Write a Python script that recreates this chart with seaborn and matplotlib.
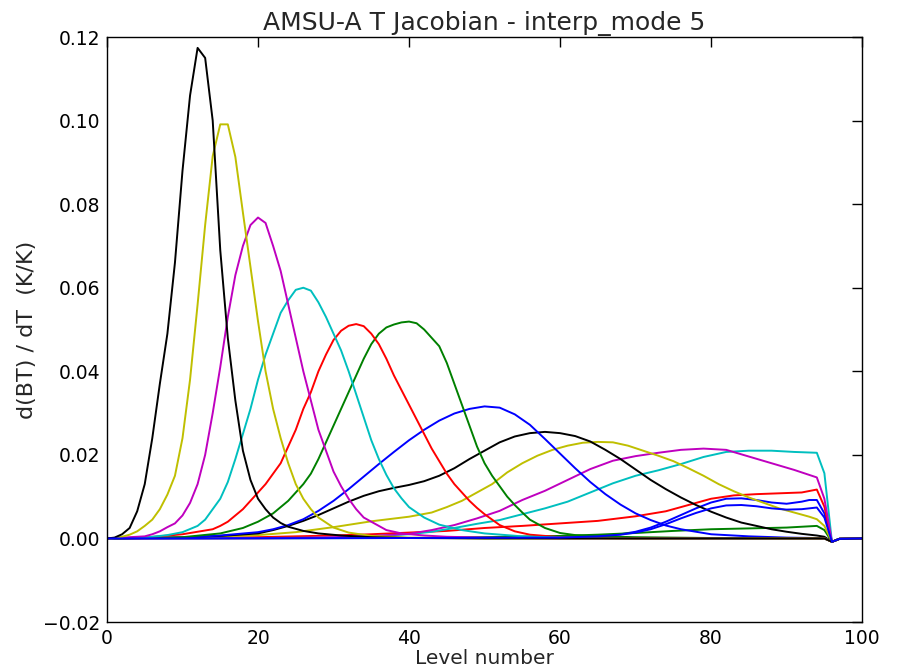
import matplotlib
matplotlib.use("Agg")
import matplotlib.pyplot as plt
import seaborn as sns
import pandas as pd

# ---- data: level numbers and d(BT)/dT per channel ----
ch1_lv = [0, 40, 60, 65, 68, 70, 72, 74, 76, 78, 80, 82, 84, 86, 88, 90, 92, 93, 94, 95, 96, 97, 100]
ch1_v = [0, 0.0001, 0.0002, 0.0005, 0.001, 0.0016, 0.0026, 0.004, 0.0056, 0.0072, 0.0086, 0.0095, 0.0096,
         0.0092, 0.0086, 0.0083, 0.0088, 0.0092, 0.0092, 0.006, -0.0008, -0.0001, 0]

ch2_lv = [0, 40, 50, 60, 65, 70, 75, 80, 85, 90, 94, 95, 96, 97, 100]
ch2_v = [0, 0.0001, 0.0003, 0.0006, 0.0009, 0.0013, 0.0018, 0.0022, 0.0024, 0.0026, 0.003, 0.002, -0.0008, -0.0001, 0]

ch3_lv = [0, 10, 20, 30, 35, 40, 45, 50, 55, 60, 65, 70, 74, 77, 80, 83, 86, 89, 92, 94, 95, 96, 97, 100]
ch3_v = [0, 0.0001, 0.0003, 0.0007, 0.001, 0.0014, 0.0018, 0.0025, 0.003, 0.0036, 0.0042, 0.0053, 0.0065,
         0.008, 0.0095, 0.0103, 0.0106, 0.0108, 0.011, 0.0117, 0.0076, -0.0008, -0.0001, 0]

ch4_lv = [0, 20, 30, 35, 40, 43, 46, 49, 52, 55, 58, 61, 64, 67, 70, 73, 76, 79, 82, 85, 88, 91, 94, 95, 96, 97, 100]
ch4_v = [0, 0.0001, 0.0002, 0.0005, 0.001, 0.0016, 0.0025, 0.0035, 0.0044, 0.0058, 0.0072, 0.0088, 0.011,
         0.0132, 0.015, 0.0163, 0.0178, 0.0195, 0.0207, 0.021, 0.021, 0.0207, 0.0205, 0.0156, -0.0008, -0.0001, 0]

ch5_lv = [0, 20, 25, 30, 35, 40, 43, 46, 49, 52, 55, 58, 61, 64, 67, 70, 73, 76, 79, 82, 85, 88, 91, 94, 95, 96, 97, 100]
ch5_v = [0, 0.00005, 0.0001, 0.0003, 0.0006, 0.0011, 0.002, 0.0032, 0.0048, 0.0066, 0.0092, 0.0114, 0.014,
         0.0166, 0.0186, 0.0197, 0.0205, 0.0212, 0.0215, 0.0212, 0.0196, 0.018, 0.0164, 0.0146, 0.0095,
         -0.0008, -0.0001, 0]

ch6_lv = [0, 10, 20, 25, 30, 35, 40, 43, 45, 47, 49, 51, 53, 55, 57, 59, 61, 63, 65, 67, 69, 71, 73, 75, 77,
          79, 81, 83, 85, 87, 89, 91, 93, 94, 95, 96, 97, 100]
ch6_v = [0, 0.0002, 0.0008, 0.0015, 0.0027, 0.0041, 0.0052, 0.0062, 0.0075, 0.009, 0.011, 0.013, 0.0158,
         0.018, 0.0198, 0.0212, 0.0222, 0.0229, 0.0231, 0.023, 0.0222, 0.021, 0.0198, 0.0185, 0.0168, 0.015,
         0.013, 0.0113, 0.0098, 0.0085, 0.0072, 0.0062, 0.0052, 0.0046, 0.003, -0.0008, -0.0001, 0]

ch7_lv = [0, 10, 15, 20, 22, 24, 26, 28, 30, 32, 34, 36, 38, 40, 42, 44, 46, 48, 50, 52, 54, 56, 58, 60, 62,
          64, 66, 68, 70, 72, 74, 76, 78, 80, 82, 84, 86, 88, 90, 92, 94, 95, 96, 97, 100]
ch7_v = [0, 0.0002, 0.0006, 0.0012, 0.002, 0.003, 0.0042, 0.0056, 0.0072, 0.0088, 0.0102, 0.0113, 0.0121,
         0.0128, 0.0137, 0.015, 0.0168, 0.019, 0.021, 0.023, 0.0244, 0.0252, 0.0255, 0.0252, 0.0245, 0.0232,
         0.0212, 0.019, 0.0165, 0.014, 0.0118, 0.0098, 0.008, 0.0064, 0.005, 0.0038, 0.003, 0.0022, 0.0016,
         0.0011, 0.0007, 0.0004, -0.0008, -0.0001, 0]

ch8_lv = [0, 10, 15, 20, 22, 24, 26, 28, 30, 32, 34, 36, 38, 40, 42, 44, 46, 48, 50, 52, 54, 56, 58, 60, 62,
          64, 66, 68, 70, 72, 74, 76, 80, 85, 90, 94, 95, 96, 97, 100]
ch8_v = [0, 0.0002, 0.0007, 0.0015, 0.0022, 0.0032, 0.0046, 0.0066, 0.009, 0.0118, 0.0148, 0.0178, 0.0207,
         0.0235, 0.026, 0.0282, 0.0299, 0.031, 0.0316, 0.0313, 0.0297, 0.0272, 0.0238, 0.0203, 0.0168,
         0.0135, 0.0106, 0.0081, 0.006, 0.0044, 0.0031, 0.0022, 0.001, 0.0005, 0.0002, 0.0001, 0.0,
         -0.0008, -0.0001, 0]

ch9_lv = [0, 10, 15, 18, 20, 22, 24, 25, 26, 27, 28, 29, 30, 31, 32, 33, 34, 35, 36, 37, 38, 39, 40, 41, 42,
          43, 44, 45, 46, 47, 48, 49, 50, 51, 52, 53, 54, 55, 56, 58, 60, 62, 65, 70, 80, 94, 95, 96, 97, 100]
ch9_v = [0, 0.0003, 0.0012, 0.0025, 0.004, 0.006, 0.009, 0.011, 0.013, 0.0155, 0.019, 0.023, 0.027, 0.031,
         0.035, 0.039, 0.043, 0.0465, 0.049, 0.0505, 0.0512, 0.0517, 0.0519, 0.0515, 0.050, 0.048, 0.046,
         0.042, 0.037, 0.032, 0.027, 0.022, 0.018, 0.015, 0.0125, 0.010, 0.008, 0.0062, 0.0045, 0.0025,
         0.0013, 0.0008, 0.0005, 0.0003, 0.0001, 0, 0, -0.0008, -0.0001, 0]

ch10_lv = [0, 5, 10, 14, 15, 16, 17, 18, 19, 20, 21, 22, 23, 24, 25, 26, 27, 28, 29, 30, 31, 32, 33, 34, 35,
           36, 37, 38, 39, 40, 41, 42, 43, 44, 45, 46, 47, 48, 49, 50, 52, 54, 56, 60, 65, 70, 94, 95, 96, 97, 100]
ch10_v = [0, 0.0002, 0.001, 0.0022, 0.003, 0.004, 0.0055, 0.007, 0.009, 0.011, 0.013, 0.0155, 0.018, 0.022,
          0.026, 0.031, 0.035, 0.040, 0.044, 0.0475, 0.0497, 0.0509, 0.0513, 0.0508, 0.049, 0.0465, 0.043,
          0.039, 0.0355, 0.032, 0.0285, 0.025, 0.0215, 0.0185, 0.0155, 0.013, 0.011, 0.009, 0.0073, 0.0058,
          0.0032, 0.0017, 0.0009, 0.0003, 0.0001, 0, 0, 0, -0.0008, -0.0001, 0]

ch11_lv = [0, 5, 8, 10, 12, 13, 14, 15, 16, 17, 18, 19, 20, 21, 22, 23, 24, 25, 26, 27, 28, 29, 30, 31, 32,
           33, 34, 35, 36, 37, 38, 39, 40, 42, 44, 47, 50, 55, 60, 70, 94, 95, 96, 97, 100]
ch11_v = [0, 0.0002, 0.0008, 0.0015, 0.003, 0.0045, 0.007, 0.0095, 0.0135, 0.019, 0.025, 0.031, 0.038, 0.044,
          0.049, 0.054, 0.057, 0.0595, 0.060, 0.0593, 0.0565, 0.053, 0.049, 0.045, 0.040, 0.0345, 0.029,
          0.0235, 0.019, 0.0152, 0.012, 0.0096, 0.0075, 0.005, 0.0033, 0.002, 0.0012, 0.0005, 0.0002, 0, 0, 0,
          -0.0008, -0.0001, 0]

ch12_lv = [0, 5, 6, 7, 8, 9, 10, 11, 12, 13, 14, 15, 16, 17, 18, 19, 20, 21, 22, 23, 24, 25, 26, 27, 28, 29,
           30, 31, 32, 33, 34, 35, 37, 39, 42, 45, 50, 60, 94, 95, 96, 97, 100]
ch12_v = [0, 0.0005, 0.001, 0.0017, 0.0027, 0.0036, 0.0055, 0.0085, 0.013, 0.020, 0.030, 0.041, 0.053, 0.063,
          0.070, 0.075, 0.0768, 0.0755, 0.070, 0.064, 0.056, 0.048, 0.040, 0.033, 0.026, 0.021, 0.016, 0.0125,
          0.0095, 0.007, 0.005, 0.004, 0.002, 0.0012, 0.0007, 0.0004, 0.0002, 0, 0, 0, -0.0008, -0.0001, 0]

ch13_lv = [0, 1, 2, 3, 4, 5, 6, 7, 8, 9, 10, 11, 12, 13, 14, 15, 16, 17, 18, 19, 20, 21, 22, 23, 24, 25, 26,
           27, 28, 30, 32, 35, 40, 50, 94, 95, 96, 97, 100]
ch13_v = [0, 0.0001, 0.0004, 0.0009, 0.0017, 0.003, 0.0045, 0.007, 0.0105, 0.015, 0.024, 0.038, 0.056, 0.075,
          0.0915, 0.0991, 0.0991, 0.0913, 0.078, 0.065, 0.052, 0.040, 0.031, 0.024, 0.018, 0.013, 0.0095,
          0.007, 0.005, 0.0026, 0.0014, 0.0006, 0.0002, 0, 0, 0, -0.0008, -0.0001, 0]

ch14_lv = [0, 1, 2, 3, 4, 5, 6, 7, 8, 9, 10, 11, 12, 13, 14, 15, 16, 17, 18, 19, 20, 21, 22, 23, 24, 26, 28,
           31, 35, 40, 50, 94, 95, 96, 97, 100]
ch14_v = [0, 0.0002, 0.001, 0.0025, 0.0065, 0.013, 0.024, 0.037, 0.049, 0.066, 0.088, 0.106, 0.1174, 0.115,
          0.100, 0.069, 0.048, 0.033, 0.021, 0.014, 0.0095, 0.007, 0.005, 0.0037, 0.0028, 0.0018, 0.0012,
          0.0007, 0.0003, 0.0001, 0, 0, 0, -0.0008, -0.0001, 0]

ch15_lv = [0, 40, 60, 65, 68, 70, 72, 74, 76, 78, 80, 82, 84, 86, 88, 90, 92, 94, 95, 96, 97, 100]
ch15_v = [0, 0.0001, 0.0002, 0.0005, 0.0009, 0.0014, 0.0022, 0.0034, 0.0048, 0.0061, 0.0072, 0.0079, 0.008,
          0.0077, 0.0072, 0.0069, 0.007, 0.0074, 0.005, -0.0008, -0.0001, 0]

channels = [(ch1_lv, ch1_v), (ch2_lv, ch2_v), (ch3_lv, ch3_v), (ch4_lv, ch4_v), (ch5_lv, ch5_v),
            (ch6_lv, ch6_v), (ch7_lv, ch7_v), (ch8_lv, ch8_v), (ch9_lv, ch9_v), (ch10_lv, ch10_v),
            (ch11_lv, ch11_v), (ch12_lv, ch12_v), (ch13_lv, ch13_v), (ch14_lv, ch14_v), (ch15_lv, ch15_v)]

x_ticks = [0, 20, 40, 60, 80, 100]
y_ticks = [-0.02, 0.00, 0.02, 0.04, 0.06, 0.08, 0.10, 0.12]

# classic matplotlib colour cycle b, g, r, c, m, y, k
cycle = ["#0000ff", "#008000", "#ff0000", "#00bfbf", "#bf00bf", "#bfbf00", "#000000"]

rows = []
for i, (lv, vals) in enumerate(channels):
    for l, v in zip(lv, vals):
        rows.append({"level": l, "value": v, "channel": f"ch{i + 1}"})
df = pd.DataFrame(rows)
names = [f"ch{i + 1}" for i in range(len(channels))]
palette = {n: cycle[i % 7] for i, n in enumerate(names)}

sns.set_style("white")
plt.rcParams["font.family"] = ["DejaVu Sans"]

fig = plt.figure(figsize=(8.99, 6.72), dpi=100)
ax = fig.add_axes([0.119, 0.0744, 0.84, 0.8705])

sns.lineplot(data=df, x="level", y="value", hue="channel", hue_order=names, palette=palette,
             estimator=None, sort=False, linewidth=1.4, legend=False, ax=ax)

ax.set_xlim(0, 100)
ax.set_ylim(-0.02, 0.12)
ax.set_xticks(x_ticks)
ax.set_yticks(y_ticks)
ax.set_yticklabels([f"{t:.2f}".replace("-", "\u2212") for t in y_ticks])
ax.tick_params(direction="in", length=7, width=1, top=True, right=True, labelsize=13.5, pad=5, colors="black")
for s in ax.spines.values():
    s.set_color("black")
    s.set_linewidth(1.0)
ax.set_title("AMSU-A T Jacobian - interp_mode 5", fontsize=18, pad=5)
ax.set_xlabel("Level number", fontsize=14.5, labelpad=1)
ax.set_ylabel("d(BT) / dT  (K/K)", fontsize=16, labelpad=4)

fig.savefig("out.png", dpi=100, facecolor="white")
